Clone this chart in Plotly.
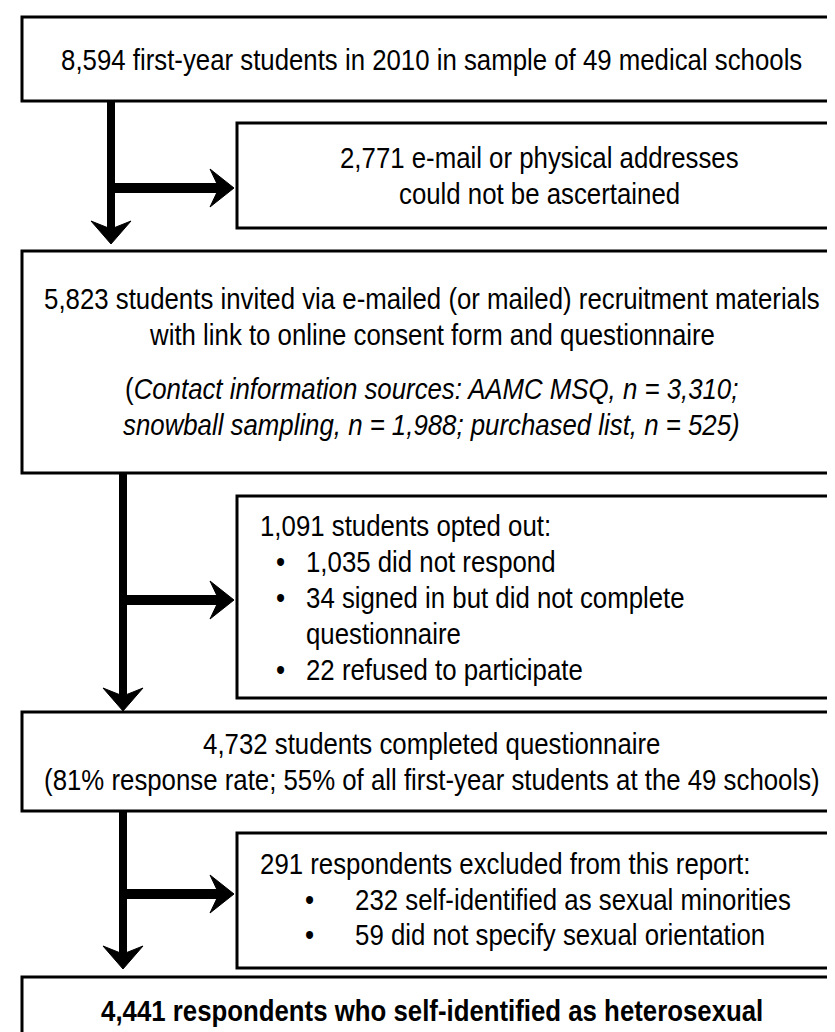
import plotly.graph_objects as go

# ---- text content (data) ----
box1_lines = ["8,594 first-year students in 2010 in sample of 49 medical schools"]
box2_lines = ["2,771 e-mail or physical addresses", "could not be ascertained"]
box3_lines = ["5,823 students invited via e-mailed (or mailed) recruitment materials",
              "with link to online consent form and questionnaire"]
box3_note = ["(<i>Contact information sources: AAMC MSQ, n = 3,310;</i>",
             "<i>snowball sampling, n = 1,988; purchased list, n = 525)</i>"]
box4_head = "1,091 students opted out:"
box4_items = [["1,035 did not respond"],
              ["34 signed in but did not complete", "questionnaire"],
              ["22 refused to participate"]]
box5_lines = ["4,732 students completed questionnaire",
              "(81% response rate; 55% of all first-year students at the 49 schools)"]
box6_head = "291 respondents excluded from this report:"
box6_items = [["232 self-identified as sexual minorities"],
              ["59 did not specify sexual orientation"]]
box7_lines = ["<b>4,441 respondents who self-identified as heterosexual</b>"]

# ---- layout geometry ----
W, H = 835, 1032
FONT = "Liberation Sans, Arial, sans-serif"
FS = 25.8
BULLET_FS = 26
PITCH = 35.5
BORDER = 3
VSHAFT = 8
HSHAFT = 10

boxes = {
    1: (14, 833, 9, 93),
    2: (229, 833, 115, 220),
    3: (14, 833, 243, 465),
    4: (229, 833, 488, 690),
    5: (14, 833, 704, 803),
    6: (229, 833, 825, 960),
    7: (14, 833, 969, 1045),
}

fig = go.Figure()
shapes = []
annotations = []

for (x0, x1, y0, y1) in boxes.values():
    shapes.append(dict(type="rect", x0=x0, x1=x1, y0=y0, y1=y1, xref="x", yref="y",
                       line=dict(color="black", width=BORDER), fillcolor="white", layer="below"))


def down_arrow(x, y_start, y_tip):
    shapes.append(dict(type="line", x0=x, x1=x, y0=y_start, y1=y_tip - 12,
                       line=dict(color="black", width=VSHAFT)))
    path = (f"M {x} {y_tip} L {x-20} {y_tip-23} L {x} {y_tip-15} "
            f"L {x+20} {y_tip-23} Z")
    shapes.append(dict(type="path", path=path, fillcolor="black",
                       line=dict(color="black", width=1)))


def right_arrow(x_start, x_tip, y):
    shapes.append(dict(type="line", x0=x_start, x1=x_tip - 12, y0=y, y1=y,
                       line=dict(color="black", width=HSHAFT)))
    path = (f"M {x_tip} {y} L {x_tip-24} {y-19} L {x_tip-15} {y} "
            f"L {x_tip-24} {y+19} Z")
    shapes.append(dict(type="path", path=path, fillcolor="black",
                       line=dict(color="black", width=1)))


down_arrow(103, 93, 236)
right_arrow(99, 226, 180)
down_arrow(115, 465, 703)
right_arrow(111, 226, 592)
down_arrow(115, 803, 961)
right_arrow(111, 226, 886)


def text(x, y, s, anchor="center", size=FS):
    annotations.append(dict(x=x, y=y, xref="x", yref="y", text=s, showarrow=False,
                            xanchor=anchor, yanchor="middle",
                            font=dict(family=FONT, size=size, color="black")))


def centered(box, lines, y_first):
    x0, x1, _, _ = boxes[box]
    for i, s in enumerate(lines):
        text((x0 + x1) / 2, y_first + i * PITCH, s)


centered(1, box1_lines, 52)
centered(2, box2_lines, 150)
centered(3, box3_lines, 291)
centered(3, box3_note, 381)
centered(5, box5_lines, 736)
centered(7, box7_lines, 1003)

# box 4 (bulleted)
y = 518
text(250, y, box4_head, "left")
for item in box4_items:
    y += 36
    text(272, y, "•", "center", BULLET_FS)
    for j, s in enumerate(item):
        if j > 0:
            y += 36
        text(296, y, s, "left")

# box 6 (bulleted)
y = 856
text(250, y, box6_head, "left")
for item in box6_items:
    y += PITCH
    text(301, y, "•", "center", BULLET_FS)
    text(345, y, item[0], "left")

fig.update_layout(
    width=W, height=H, margin=dict(l=0, r=0, t=0, b=0),
    paper_bgcolor="white", plot_bgcolor="white",
    xaxis=dict(range=[0, W], visible=False, fixedrange=True),
    yaxis=dict(range=[H, 0], visible=False, fixedrange=True),
    shapes=shapes, annotations=annotations, showlegend=False,
)

# slightly taller, condensed-looking lettering like the original figure
post = ("var st=document.createElement('style');"
        "st.textContent='.annotation-text{transform-box:fill-box;"
        "transform-origin:50% 50%;transform:scaleY(1.14);}';"
        "document.head.appendChild(st);")

fig.write_html("out.html", post_script=post)
